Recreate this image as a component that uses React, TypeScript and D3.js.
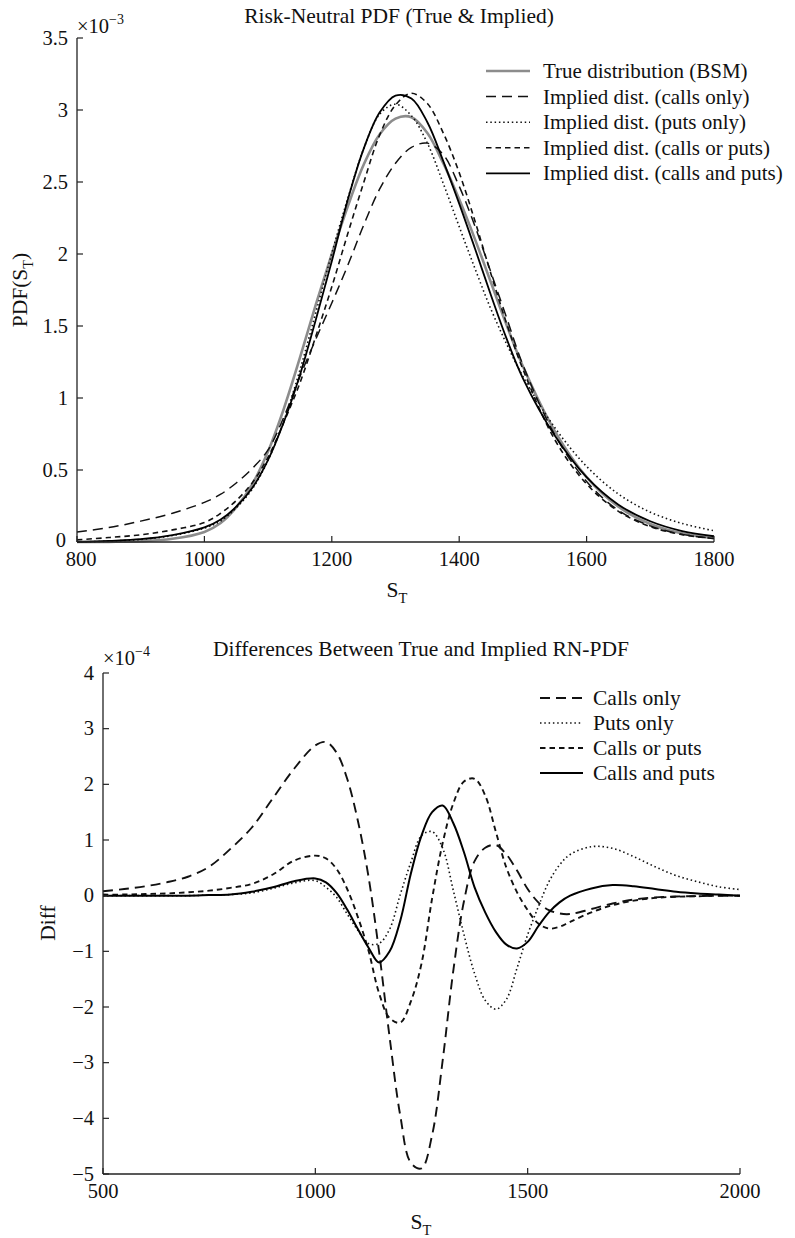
import React from "react";
import * as d3 from "d3";

// ---------- Top chart data (PDF, units of 1e-3) ----------
const topS = [800, 850, 900, 950, 1000, 1025, 1050, 1075, 1100, 1125, 1150, 1175, 1200, 1225, 1250, 1275, 1300, 1325, 1350, 1375, 1400, 1425, 1450, 1475, 1500, 1550, 1600, 1650, 1700, 1750, 1800];
const trueBSM = [0.0, 0.001, 0.005, 0.022, 0.07, 0.13, 0.24, 0.4, 0.63, 0.93, 1.28, 1.65, 2.0, 2.33, 2.62, 2.83, 2.94, 2.95, 2.84, 2.63, 2.38, 2.1, 1.8, 1.5, 1.22, 0.77, 0.45, 0.245, 0.125, 0.06, 0.028];
const impCallsOnly = [0.07, 0.1, 0.145, 0.2, 0.275, 0.33, 0.41, 0.51, 0.64, 0.87, 1.15, 1.41, 1.66, 1.92, 2.2, 2.45, 2.63, 2.74, 2.77, 2.69, 2.47, 2.19, 1.87, 1.55, 1.23, 0.745, 0.42, 0.22, 0.112, 0.053, 0.025];
const impPutsOnly = [0.0, 0.006, 0.018, 0.045, 0.097, 0.145, 0.237, 0.367, 0.568, 0.845, 1.195, 1.595, 2.005, 2.385, 2.73, 2.97, 3.04, 2.96, 2.77, 2.49, 2.19, 1.896, 1.615, 1.37, 1.15, 0.795, 0.525, 0.333, 0.207, 0.129, 0.078];
const impCallsOrPuts = [0.015, 0.031, 0.05, 0.084, 0.135, 0.198, 0.288, 0.41, 0.59, 0.835, 1.105, 1.43, 1.772, 2.14, 2.495, 2.825, 3.035, 3.116, 3.045, 2.84, 2.565, 2.225, 1.86, 1.51, 1.2, 0.711, 0.403, 0.213, 0.107, 0.051, 0.024];
const impCallsAndPuts = [0.0, 0.008, 0.02, 0.048, 0.101, 0.154, 0.245, 0.375, 0.57, 0.837, 1.16, 1.545, 1.95, 2.375, 2.73, 2.982, 3.1, 3.08, 2.915, 2.645, 2.35, 2.035, 1.712, 1.405, 1.137, 0.74, 0.45, 0.259, 0.144, 0.076, 0.04];
const topXTicks = [800, 1000, 1200, 1400, 1600, 1800];
const topYTicks = [0, 0.5, 1, 1.5, 2, 2.5, 3, 3.5];
const topLegend = ["True distribution (BSM)", "Implied dist. (calls only)", "Implied dist. (puts only)", "Implied dist. (calls or puts)", "Implied dist. (calls and puts)"];

// ---------- Bottom chart data (Diff, units of 1e-4) ----------
const diffS = [500, 550, 600, 650, 700, 750, 800, 850, 900, 950, 1000, 1025, 1050, 1075, 1100, 1125, 1150, 1175, 1200, 1225, 1250, 1275, 1300, 1325, 1350, 1375, 1400, 1425, 1450, 1475, 1500, 1525, 1550, 1575, 1600, 1650, 1700, 1750, 1800, 1850, 1900, 1950, 2000];
const diffCallsOnly = [0.08, 0.12, 0.17, 0.24, 0.34, 0.52, 0.84, 1.22, 1.75, 2.28, 2.7, 2.76, 2.57, 2.1, 1.35, 0.35, -1.0, -2.55, -3.95, -4.8, -4.9, -4.3, -2.95, -1.34, -0.1, 0.62, 0.86, 0.91, 0.74, 0.45, 0.12, -0.12, -0.26, -0.32, -0.33, -0.24, -0.14, -0.07, -0.03, -0.015, -0.007, -0.003, 0];
const diffPutsOnly = [0, 0, 0, 0, 0, 0.01, 0.02, 0.05, 0.13, 0.23, 0.27, 0.15, -0.03, -0.33, -0.62, -0.86, -0.86, -0.6, 0.02, 0.6, 1.08, 1.15, 0.85, 0.09, -0.7, -1.4, -1.88, -2.04, -1.86, -1.3, -0.7, -0.2, 0.25, 0.55, 0.74, 0.88, 0.85, 0.7, 0.52, 0.36, 0.25, 0.16, 0.11];
const diffCallsOrPuts = [0.02, 0.02, 0.03, 0.04, 0.06, 0.09, 0.14, 0.21, 0.38, 0.63, 0.72, 0.67, 0.48, 0.12, -0.38, -0.98, -1.75, -2.2, -2.28, -1.9, -1.22, -0.05, 0.95, 1.66, 2.05, 2.1, 1.8, 1.15, 0.5, 0.06, -0.26, -0.5, -0.59, -0.56, -0.47, -0.3, -0.17, -0.09, -0.04, -0.02, -0.01, 0, 0];
const diffCallsAndPuts = [0, 0, 0, 0, 0, 0.01, 0.02, 0.07, 0.15, 0.26, 0.31, 0.24, 0.05, -0.25, -0.6, -0.93, -1.2, -1.0, -0.45, 0.4, 1.08, 1.5, 1.62, 1.3, 0.78, 0.15, -0.3, -0.65, -0.88, -0.95, -0.83, -0.55, -0.3, -0.12, 0.0, 0.13, 0.19, 0.17, 0.12, 0.07, 0.04, 0.02, 0];
const diffXTicks = [500, 1000, 1500, 2000];
const diffYTicks = [-5, -4, -3, -2, -1, 0, 1, 2, 3, 4];
const diffLegend = ["Calls only", "Puts only", "Calls or puts", "Calls and puts"];

const FONT = "'Liberation Serif', 'Times New Roman', serif";
const AX = "#222";

const styles = {
  gray: { stroke: "#8c8c8c", strokeWidth: 2.6, dash: "none" },
  long: { stroke: "#111", strokeWidth: 1.5, dash: "10,6" },
  dot: { stroke: "#111", strokeWidth: 1.6, dash: "1.5,2.8" },
  short: { stroke: "#111", strokeWidth: 1.6, dash: "5.5,4" },
  solid: { stroke: "#000", strokeWidth: 1.8, dash: "none" },
};

function fmtNum(v: number) {
  const s = String(v);
  return v < 0 ? "\u2212" + s.slice(1) : s;
}

export default function App() {
  const tx = d3.scaleLinear().domain([800, 1800]).range([77, 714]);
  const ty = d3.scaleLinear().domain([0, 3.5]).range([542, 38]);
  const bx = d3.scaleLinear().domain([500, 2000]).range([103, 740]);
  const by = d3.scaleLinear().domain([-5, 4]).range([1174, 673]);

  const mk = (xs: number[], ys: number[], sx: any, sy: any) =>
    d3
      .line<number>()
      .x((_, i) => sx(xs[i]))
      .y((d) => sy(d))
      .curve(d3.curveCatmullRom.alpha(0.5))(ys) as string;

  const topSeries = [
    { data: trueBSM, st: styles.gray },
    { data: impCallsOnly, st: styles.long },
    { data: impPutsOnly, st: styles.dot },
    { data: impCallsOrPuts, st: styles.short },
    { data: impCallsAndPuts, st: styles.solid },
  ];
  const topLegendStyles = [styles.gray, styles.long, styles.dot, styles.short, styles.solid];

  const bw = 1.9;
  const botStyles = [
    { ...styles.long, strokeWidth: bw },
    { ...styles.dot, strokeWidth: 1.6 },
    { ...styles.short, strokeWidth: bw },
    { ...styles.solid, strokeWidth: 2 },
  ];
  const botSeries = [diffCallsOnly, diffPutsOnly, diffCallsOrPuts, diffCallsAndPuts];

  const tickLen = 6;
  const [tx0, tx1] = tx.range();
  const [ty0, ty1] = ty.range();
  const [bx0, bx1] = bx.range();
  const [by0, by1] = by.range();

  return (
    <svg
      width={795}
      height={1238}
      style={{ position: "absolute", left: 0, top: 0, background: "#fff" }}
      fontFamily={FONT}
    >
      <rect x={0} y={0} width={795} height={1238} fill="#fff" />
      {/* ===== Top chart ===== */}
      <text x={399} y={23} fontSize={21.5} textAnchor="middle" fill="#111">
        Risk-Neutral PDF (True &amp; Implied)
      </text>
      <text x={tx0} y={33} fontSize={20.5} fill="#111">
        ×10
        <tspan fontSize={14} dy={-9}>
          {"\u22123"}
        </tspan>
      </text>
      {topSeries.map((s, i) => (
        <path
          key={i}
          d={mk(topS, s.data, tx, ty)}
          fill="none"
          stroke={s.st.stroke}
          strokeWidth={s.st.strokeWidth}
          strokeDasharray={s.st.dash}
        />
      ))}
      <line x1={tx0} x2={tx0} y1={ty1} y2={ty0} stroke={AX} strokeWidth={1.3} />
      <line x1={tx0} x2={tx1} y1={ty0} y2={ty0} stroke={AX} strokeWidth={1.3} />
      {topYTicks.map((t) => (
        <g key={"ty" + t}>
          <line x1={tx0} x2={tx0 + tickLen} y1={ty(t)} y2={ty(t)} stroke={AX} strokeWidth={1.2} />
          <text x={t === 0 ? tx0 - 11 : tx0 - 9} y={ty(t) + (t === 0 ? 4.5 : 6.5)} fontSize={20.5} textAnchor="end" fill="#111">
            {fmtNum(t)}
          </text>
        </g>
      ))}
      {topXTicks.map((t, i) => (
        <g key={"tx" + t}>
          <line x1={tx(t)} x2={tx(t)} y1={ty0} y2={ty0 - tickLen} stroke={AX} strokeWidth={1.2} />
          <text x={tx(t) + (i === 0 ? 4 : 0)} y={ty0 + 24} fontSize={20.5} textAnchor="middle" fill="#111">
            {t}
          </text>
        </g>
      ))}
      <text x={397} y={597} fontSize={21.5} textAnchor="middle" fill="#111">
        S<tspan fontSize={14.5} dy={6}>T</tspan>
      </text>
      <text transform="translate(27,290) rotate(-90)" fontSize={21.5} textAnchor="middle" fill="#111">
        PDF(S<tspan fontSize={14.5} dy={6}>T</tspan>
        <tspan dy={-6}>)</tspan>
      </text>
      {topLegend.map((lab, i) => {
        const yc = 71 + i * 25.6;
        const st = topLegendStyles[i];
        return (
          <g key={"tl" + i}>
            <line
              x1={486}
              x2={530}
              y1={yc}
              y2={yc}
              stroke={st.stroke}
              strokeWidth={st.strokeWidth}
              strokeDasharray={st.dash}
            />
            <text x={543} y={yc + 7} fontSize={21} fill="#111">
              {lab}
            </text>
          </g>
        );
      })}

      {/* ===== Bottom chart ===== */}
      <text x={421} y={656} fontSize={21.5} textAnchor="middle" fill="#111">
        Differences Between True and Implied RN-PDF
      </text>
      <text x={bx0} y={665} fontSize={20.5} fill="#111">
        ×10
        <tspan fontSize={14} dy={-9}>
          {"\u22124"}
        </tspan>
      </text>
      {botSeries.map((data, i) => (
        <path
          key={"b" + i}
          d={mk(diffS, data, bx, by)}
          fill="none"
          stroke={botStyles[i].stroke}
          strokeWidth={botStyles[i].strokeWidth}
          strokeDasharray={botStyles[i].dash}
        />
      ))}
      <line x1={bx0} x2={bx0} y1={by1} y2={by0} stroke={AX} strokeWidth={1.3} />
      <line x1={bx0} x2={bx1} y1={by0} y2={by0} stroke={AX} strokeWidth={1.3} />
      {diffYTicks.map((t) => (
        <g key={"by" + t}>
          <line x1={bx0} x2={bx0 + tickLen} y1={by(t)} y2={by(t)} stroke={AX} strokeWidth={1.2} />
          <text x={bx0 - 9} y={by(t) + 6.5} fontSize={20.5} textAnchor="end" fill="#111">
            {fmtNum(t)}
          </text>
        </g>
      ))}
      {diffXTicks.map((t) => (
        <g key={"bx" + t}>
          <line x1={bx(t)} x2={bx(t)} y1={by0} y2={by0 - tickLen} stroke={AX} strokeWidth={1.2} />
          <text x={bx(t)} y={by0 + 24} fontSize={20.5} textAnchor="middle" fill="#111">
            {t}
          </text>
        </g>
      ))}
      <text x={421} y={1229} fontSize={21.5} textAnchor="middle" fill="#111">
        S<tspan fontSize={14.5} dy={6}>T</tspan>
      </text>
      <text transform="translate(55,923) rotate(-90)" fontSize={21.5} textAnchor="middle" fill="#111">
        Diff
      </text>
      {diffLegend.map((lab, i) => {
        const yc = 698 + i * 25;
        const st = botStyles[i];
        return (
          <g key={"bl" + i}>
            <line
              x1={540}
              x2={583}
              y1={yc}
              y2={yc}
              stroke={st.stroke}
              strokeWidth={st.strokeWidth}
              strokeDasharray={st.dash}
            />
            <text x={593} y={yc + 7} fontSize={21.5} fill="#111">
              {lab}
            </text>
          </g>
        );
      })}
    </svg>
  );
}
